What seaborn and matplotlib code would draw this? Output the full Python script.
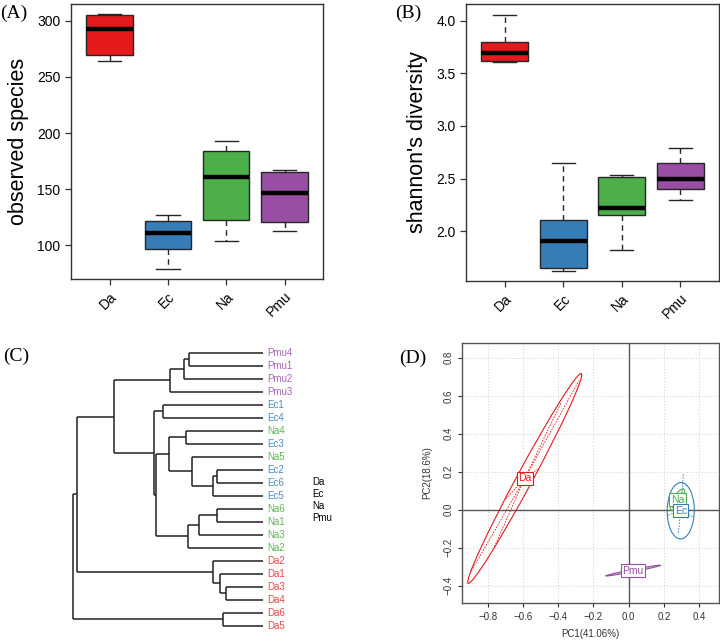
import numpy as np
import pandas as pd
import matplotlib
matplotlib.use('Agg')
import matplotlib.pyplot as plt
from matplotlib.patches import Ellipse
import seaborn as sns

plt.rcParams['font.family'] = ['Liberation Sans', 'DejaVu Sans']

groups = ['Da', 'Ec', 'Na', 'Pmu']
group_colors = ['#E41A1C', '#377EB8', '#4DAF4A', '#984EA3']
label_colors = ['#E5474B', '#4A8CC8', '#5DB552', '#A866BA']

# (A) observed species - min, q1, median, q3, max
obs_da = [264, 270, 293, 305, 306]
obs_ec = [79, 97, 111, 122, 127]
obs_na = [104, 123, 161, 184, 193]
obs_pmu = [113, 121, 147, 165, 167]
obs_ticks = [100, 150, 200, 250, 300]

# (B) shannon's diversity
shan_da = [3.61, 3.62, 3.69, 3.80, 4.06]
shan_ec = [1.62, 1.65, 1.91, 2.11, 2.65]
shan_na = [1.82, 2.15, 2.22, 2.51, 2.53]
shan_pmu = [2.30, 2.40, 2.50, 2.65, 2.79]
shan_ticks = [2.0, 2.5, 3.0, 3.5, 4.0]

# (C) dendrogram: leaf order top to bottom + merges (left, right, height)
leaf_order = ['Pmu4', 'Pmu1', 'Pmu2', 'Pmu3', 'Ec1', 'Ec4', 'Na4', 'Ec3', 'Na5',
              'Ec2', 'Ec6', 'Ec5', 'Na6', 'Na1', 'Na3', 'Na2', 'Da2', 'Da1',
              'Da3', 'Da4', 'Da6', 'Da5']
merge_names = ['n1', 'n2', 'n3', 'n4', 'n5', 'n6', 'n7', 'n8', 'n9', 'n10', 'n11',
               'n12', 'n13', 'n14', 'n15', 'n16', 'n17', 'n18', 'n19', 'n20', 'n21']
merge_left = ['Pmu4', 'n1', 'n2', 'Ec1', 'Na4', 'Ec2', 'n6', 'Na5', 'n5', 'Na6', 'n10',
              'n11', 'n9', 'n4', 'n3', 'Da3', 'Da1', 'Da2', 'n15', 'Da6', 'n19']
merge_right = ['Pmu1', 'Pmu2', 'Pmu3', 'Ec4', 'Ec3', 'Ec6', 'Ec5', 'n7', 'n8', 'Na1', 'Na3',
               'Na2', 'n12', 'n13', 'n14', 'Da4', 'n16', 'n17', 'n18', 'Da5', 'n20']
merge_height = [0.223, 0.237, 0.279, 0.302, 0.232, 0.139, 0.150, 0.212, 0.282, 0.137, 0.192,
                0.224, 0.322, 0.327, 0.447, 0.112, 0.130, 0.150, 0.560, 0.120, 0.572]

# (D) PCA scores per sample
da_pc1 = [-0.896, -0.763, -0.700, -0.515, -0.383, -0.282]
da_pc2 = [-0.328, -0.197, 0.055, 0.214, 0.565, 0.680]
ec_pc1 = [0.310, 0.280, 0.370, 0.220, 0.250, 0.340]
ec_pc2 = [0.190, -0.130, -0.040, -0.030, 0.030, -0.050]
na_pc1 = [0.310, 0.300, 0.240, 0.250, 0.260, 0.300]
na_pc2 = [0.110, 0.090, 0.000, 0.030, 0.060, 0.030]
pmu_pc1 = [-0.120, 0.170, 0.000, 0.050]
pmu_pc2 = [-0.345, -0.295, -0.330, -0.310]
pc_xticks = [-0.8, -0.6, -0.4, -0.2, 0.0, 0.2, 0.4]
pc_yticks = [-0.4, -0.2, 0.0, 0.2, 0.4, 0.6, 0.8]


def long_frame(vals_list):
    rows = []
    for g, vals in zip(groups, vals_list):
        for v in vals:
            rows.append({'group': g, 'value': v})
    return pd.DataFrame(rows)


def box_panel(ax, df, ylabel, ylim, yticks):
    sns.boxplot(data=df, x='group', y='value', hue='group', order=groups, hue_order=groups,
                palette=group_colors, saturation=1, width=0.8, whis=(0, 100),
                linecolor='#262626', linewidth=1.0, legend=False, ax=ax,
                medianprops={'color': 'black', 'linewidth': 3.2},
                whiskerprops={'linestyle': (0, (4, 3))})
    ax.set_xlim(-0.66, 3.66)
    ax.set_ylim(*ylim)
    ax.set_yticks(yticks)
    ax.set_xlabel('')
    ax.set_ylabel(ylabel, fontsize=15.5, labelpad=6)
    ax.tick_params(axis='both', labelsize=10, length=4, width=0.9, color='#333333')
    plt.setp(ax.get_xticklabels(), rotation=45, ha='right', rotation_mode='anchor')
    for sp in ax.spines.values():
        sp.set_linewidth(1.0)
        sp.set_color('#333333')


fig = plt.figure(figsize=(7.2, 6.41), dpi=100)

# (A)
axA = fig.add_axes([71 / 720, 1 - 279 / 641, 252 / 720, 275 / 641])
box_panel(axA, long_frame([obs_da, obs_ec, obs_na, obs_pmu]), 'observed species',
          (70, 315), obs_ticks)

# (B)
axB = fig.add_axes([466 / 720, 1 - 281 / 641, 253 / 720, 277 / 641])
box_panel(axB, long_frame([shan_da, shan_ec, shan_na, shan_pmu]), "shannon's diversity",
          (1.525, 4.16), shan_ticks)

# (C) dendrogram
axC = fig.add_axes([0, 0, 0.5, 321 / 641])
axC.set_xlim(0.7905, -0.2916)
axC.set_ylim(22.18, -2.515)
axC.axis('off')
pos = {name: (0.0, i) for i, name in enumerate(leaf_order)}
for node, a, b, h in zip(merge_names, merge_left, merge_right, merge_height):
    ha_, ya = pos[a]
    hb, yb = pos[b]
    axC.plot([h, h], [ya, yb], color='#222222', lw=1.1, solid_capstyle='butt')
    axC.plot([h, ha_], [ya, ya], color='#222222', lw=1.1, solid_capstyle='butt')
    axC.plot([h, hb], [yb, yb], color='#222222', lw=1.1, solid_capstyle='butt')
    pos[node] = (h, (ya + yb) / 2)
for i, name in enumerate(leaf_order):
    g = name.rstrip('0123456789')
    axC.text(-0.012, i, name, color=label_colors[groups.index(g)], fontsize=7,
             ha='left', va='center')
for i, g in enumerate(groups):
    fig.text(312 / 720, 1 - (482.3 + 12 * i) / 641, g, fontsize=7, ha='left', va='center')

# (D) PCA
axD = fig.add_axes([462.3 / 720, 1 - 602.7 / 641, 256.7 / 720, 259.4 / 641])
axD.set_xlim(-0.944, 0.512)
axD.set_ylim(-0.489, 0.876)
axD.set_xticks(pc_xticks)
axD.set_yticks(pc_yticks)
axD.grid(True, linestyle=(0, (1, 2)), color='#cfcfcf', linewidth=0.7)
axD.set_axisbelow(True)
axD.axhline(0, color='#555555', lw=1.0, zorder=1)
axD.axvline(0, color='#555555', lw=1.0, zorder=1)
pcs = {'Da': (da_pc1, da_pc2), 'Pmu': (pmu_pc1, pmu_pc2),
       'Na': (na_pc1, na_pc2), 'Ec': (ec_pc1, ec_pc2)}
for g in ['Da', 'Pmu', 'Na', 'Ec']:
    col = group_colors[groups.index(g)]
    x = np.array(pcs[g][0])
    y = np.array(pcs[g][1])
    cx, cy = x.mean(), y.mean()
    cov = np.cov(np.vstack([x, y]), bias=True)
    evals, evecs = np.linalg.eigh(cov)
    ang = np.degrees(np.arctan2(evecs[1, 1], evecs[0, 1]))
    ell = Ellipse((cx, cy), 2 * 1.5 * np.sqrt(evals[1]), 2 * 1.5 * np.sqrt(evals[0]),
                  angle=ang, fill=False, edgecolor=col, lw=0.8, zorder=3)
    axD.add_patch(ell)
    for xi, yi in zip(x, y):
        axD.plot([cx, xi], [cy, yi], color=col, lw=0.6, ls=(0, (2, 1.5)), zorder=3)
    axD.text(cx, cy, g, color=col, fontsize=7.5, ha='center', va='center', zorder=5,
             bbox=dict(boxstyle='square,pad=0.15', fc='white', ec=col, lw=0.8))
axD.tick_params(axis='both', labelsize=7, length=3, width=0.8, colors='#333333')
plt.setp(axD.get_yticklabels(), rotation=90, va='center')
axD.set_xlabel('PC1(41.06%)', fontsize=7, labelpad=5, color='#333333')
axD.set_ylabel('PC2(18.6%)', fontsize=7, labelpad=8, color='#333333')
for sp in axD.spines.values():
    sp.set_linewidth(1.0)
    sp.set_color('#555555')

# panel letters
for txt, x, y in [('(A)', 0, 13), ('(B)', 395, 13), ('(C)', 3, 356), ('(D)', 399, 358)]:
    fig.text(x / 720, 1 - y / 641, txt, fontsize=14, family='Liberation Serif',
             ha='left', va='center')

fig.savefig('out.png', dpi=100)
